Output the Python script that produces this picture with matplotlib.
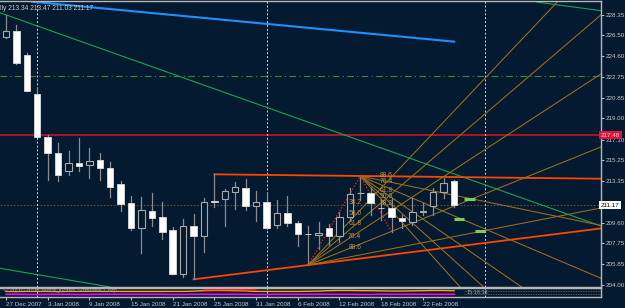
import matplotlib
matplotlib.use('Agg')
import matplotlib.pyplot as plt
from matplotlib.patches import Rectangle
import numpy as np

# ---------------- data ----------------
dates = ['27 Dec 2007', '3 Jan 2008', '9 Jan 2008', '15 Jan 2008', '21 Jan 2008',
         '25 Jan 2008', '31 Jan 2008', '6 Feb 2008', '12 Feb 2008', '18 Feb 2008',
         '22 Feb 2008']
date_bars = [0, 4, 8, 12, 16, 20, 24, 28, 32, 36, 40]

opens = [226.37, 226.91, 224.69, 221.21, 217.30, 215.92, 214.30, 214.96, 214.78, 215.23,
         214.57, 213.07, 211.36, 209.16, 210.67, 210.10, 208.95, 204.99, 209.31, 208.41,
         211.55, 211.72, 212.40, 212.77, 211.14, 211.50, 209.40, 210.51, 209.61, 208.59,
         208.50, 209.16, 208.41, 210.10, 212.26, 212.26, 210.93, 210.91, 210.06, 209.65,
         210.60, 211.14, 212.35, 213.34]
highs = [228.32, 227.42, 224.87, 221.72, 217.51, 216.76, 216.07, 217.27, 216.37, 215.92,
         215.05, 213.37, 212.02, 211.95, 212.31, 211.45, 209.25, 209.92, 210.37, 211.81,
         213.97, 212.65, 213.28, 213.55, 212.47, 212.26, 211.66, 212.02, 209.76, 209.31,
         209.70, 209.46, 210.60, 212.71, 213.82, 212.71, 211.72, 211.81, 210.30, 211.81,
         211.41, 212.71, 213.61, 213.47]
lows = [226.25, 223.88, 221.45, 217.30, 213.46, 213.40, 213.91, 214.30, 213.67, 213.46,
        211.90, 210.67, 208.95, 206.91, 209.31, 208.12, 204.95, 204.69, 204.51, 207.00,
        211.05, 209.31, 210.82, 210.76, 209.76, 209.05, 209.16, 209.31, 207.50, 205.80,
        207.20, 207.60, 207.90, 209.85, 211.66, 210.30, 209.85, 208.75, 209.10, 209.40,
        210.30, 210.30, 211.81, 211.03]
closes = [226.91, 223.97, 221.50, 217.36, 215.92, 213.88, 214.96, 214.75, 215.17, 214.57,
          212.85, 211.30, 209.16, 210.76, 210.06, 208.80, 204.99, 209.31, 208.44, 211.45,
          211.50, 212.47, 212.80, 211.11, 211.48, 209.11, 210.46, 209.61, 208.59, 208.55,
          208.70, 208.41, 210.10, 212.17, 212.30, 211.36, 210.90, 210.10, 209.76, 210.55,
          210.62, 212.40, 213.22, 211.17]

price_ticks = [228.35, 226.50, 224.60, 222.75, 220.85, 219.00, 217.10, 215.25, 213.35,
               209.60, 207.75, 205.85, 204.00]
title_text = 'lly 213.34 213.47 211.03 211.17'
last_price = 211.17
red_level = 217.48
green_level = 222.85
vlines_bars = [3, 25, 46]

fib_levels = [0.382, 0.5, 0.618, 0.764, 0.886]
fib_labels = ['38.2', '50.0', '61.8', '76.4', '88.6']
fanA = (29, 205.80)   # low
fanB = (34, 213.82)   # high
fanC = (37, 208.75)   # low

blue_line = [(2.5, 229.52), (43, 225.92)]
green_line1 = [(-0.6, 228.53), (57.1, 209.31)]
green_line2 = [(50.9, 229.49), (57.1, 228.71)]
green_line3 = [(-0.6, 205.51), (10.0, 203.82)]
support_pts = [(18, 204.51), (29, 205.80)]
resist_pts = [(20, 213.97), (34, 213.82)]
marks = [(44.0, 45.0, 211.73), (43.0, 44.0, 209.94), (45.0, 46.0, 208.90)]

# indicator strip series (0..1 scale of the strip)
ind_magenta = [0.30, 0.30, 0.28, 0.28, 0.30, 0.30, 0.30, 0.28, 0.28, 0.30,
               0.30, 0.30, 0.30, 0.30, 0.30, 0.30, 0.28, 0.28, 0.30, 0.30,
               0.30, 0.30, 0.30, 0.30, 0.28, 0.28, 0.30, 0.30, 0.30, 0.30,
               0.30, 0.30, 0.30, 0.30, 0.28, 0.28, 0.30, 0.30, 0.30, 0.30,
               0.30, 0.30, 0.30, 0.30]
ind_orange = [0.62, 0.60, 0.62, 0.62, 0.62, 0.60, 0.62, 0.62, 0.62, 0.62,
              0.62, 0.62, 0.62, 0.62, 0.62, 0.62, 0.62, 0.62, 0.65, 0.70,
              0.72, 0.72, 0.70, 0.68, 0.62, 0.62, 0.62, 0.62, 0.62, 0.64,
              0.66, 0.70, 0.72, 0.72, 0.70, 0.70, 0.68, 0.66, 0.66, 0.68,
              0.70, 0.72, 0.72, 0.70]
ind_red = [0.80, 0.80, 0.82, 0.82, 0.80, 0.78]
ind_red_bars = [19, 20, 21, 22, 23, 24]
ind_clock = '15:18:38'

# ---------------- figure ----------------
W, H = 625, 308
BG = '#031a30'
fig = plt.figure(figsize=(W / 100, H / 100), dpi=100)
fig.patch.set_facecolor(BG)

ax = fig.add_axes([0, 1 - 287 / H, 601 / W, 286 / H])
axi = fig.add_axes([0, 1 - 297 / H, 601 / W, 9 / H], sharex=ax)
for a in (ax, axi):
    a.set_facecolor(BG)
    for s in a.spines.values():
        s.set_color('#b8b8b8')
        s.set_linewidth(1)
    a.spines['left'].set_visible(False)

XMIN, XMAX = -0.576, 57.1
ax.set_xlim(XMIN, XMAX)
ax.set_ylim(203.82, 229.58)

FONT = 'Liberation Sans'
FS = 4.5
TXT = '#c8c8c8'

# candles
bw = 0.62
for i, (o, h, l, c) in enumerate(zip(opens, highs, lows, closes)):
    ax.plot([i, i], [l, h], color='#8c8c8c', lw=0.9, zorder=3)
    bot, top = min(o, c), max(o, c)
    hgt = max(top - bot, 0.04)
    if c < o:
        ax.add_patch(Rectangle((i - bw / 2, bot), bw, hgt, facecolor='white',
                               edgecolor='#dcdcdc', lw=0.6, zorder=4))
    else:
        ax.add_patch(Rectangle((i - bw / 2, bot), bw, hgt, facecolor=BG,
                               edgecolor='#a8a8a8', lw=0.8, zorder=4))

# horizontal lines
ax.axhline(red_level, color='#e01020', lw=1.1, zorder=2)
ax.axhline(green_level, color='#3f8a2a', lw=0.8, ls=(0, (6, 3, 1, 3)), zorder=2)
ax.axhline(last_price, color='#6a4a28', lw=0.8, ls=(0, (1.5, 1.5)), zorder=2)
for b in vlines_bars:
    ax.axvline(b, color='#d8d8d8', lw=0.7, ls=(0, (2, 2)), zorder=2)
    axi.axvline(b, color='#d8d8d8', lw=0.7, ls=(0, (2, 2)), zorder=2)

def seg(pts, **kw):
    xs, ys = zip(*pts)
    ax.plot(xs, ys, **kw)

seg(blue_line, color='#1e90ff', lw=1.5, zorder=2)
seg(green_line1, color='#20a050', lw=0.8, zorder=2)
seg(green_line2, color='#20a050', lw=0.8, zorder=2)
seg(green_line3, color='#20a050', lw=0.8, zorder=2)

def ray(p0, p1, x_end=60, **kw):
    slope = (p1[1] - p0[1]) / (p1[0] - p0[0])
    ax.plot([p0[0], x_end], [p0[1], p0[1] + slope * (x_end - p0[0])], **kw)

ray(support_pts[0], support_pts[1], color='#ff4500', lw=1.3, zorder=2)
ray(resist_pts[0], resist_pts[1], color='#ff4500', lw=1.3, zorder=2)

FAN = '#9c7018'
for lv, lab in zip(fib_levels, fib_labels):
    p = fanB[1] - lv * (fanB[1] - fanA[1])
    ray(fanA, (fanB[0], p), color=FAN, lw=0.75, zorder=2)
    ax.text(fanB[0] + 0.1, p + 0.66, lab, ha='right', va='center', fontsize=FS + 0.4,
            family=FONT, color='#b8943a', zorder=5)
    q = fanC[1] + lv * (fanB[1] - fanC[1])
    ray(fanB, (fanC[0], q), color=FAN, lw=0.75, zorder=2)
    ax.text(fanC[0] + 0.1, q + 0.66, lab, ha='right', va='center', fontsize=FS + 0.4,
            family=FONT, color='#b8943a', zorder=5)
ax.plot([fanA[0], fanB[0]], [fanA[1], fanB[1]], color='#ff2020', lw=0.9, ls=(0, (1, 1.5)), zorder=3)
ax.plot([fanB[0], fanC[0]], [fanB[1], fanC[1]], color='#ff2020', lw=0.9, ls=(0, (1, 1.5)), zorder=3)

for x0, x1, y in marks:
    ax.plot([x0, x1], [y, y], color='#7ccd5a', lw=2.2, solid_capstyle='butt', zorder=5)

# y axis on the right
ax.yaxis.tick_right()
ax.set_yticks(price_ticks)
ax.set_yticklabels([f'{v:.2f}' for v in price_ticks])
ax.tick_params(axis='y', direction='out', length=2, width=0.8, color='#b8b8b8',
               labelsize=FS, labelcolor=TXT, pad=1.5)
for t in ax.get_yticklabels():
    t.set_family(FONT)
ax.tick_params(axis='x', bottom=False, labelbottom=False)

ax.text(1.0, red_level, '217.48', transform=ax.get_yaxis_transform(), ha='left', va='center',
        fontsize=FS, family=FONT, color='#ffd0d0', zorder=6, clip_on=False,
        bbox=dict(boxstyle='square,pad=0.25', fc='#dc143c', ec='none'))
ax.text(1.0, last_price, '211.17', transform=ax.get_yaxis_transform(), ha='left', va='center',
        fontsize=FS, family=FONT, color='black', zorder=6, clip_on=False,
        bbox=dict(boxstyle='square,pad=0.25', fc='white', ec='none'))

ax.text(0.0, 0.985, title_text, transform=ax.transAxes, ha='left', va='top', fontsize=FS + 0.3,
        family=FONT, color=TXT)

# indicator strip
axi.set_ylim(0, 1)
axi.set_yticks([])
bars = np.arange(len(ind_magenta))
axi.plot(bars, ind_orange, color='#ffa500', lw=1.0, zorder=3)
axi.plot(bars, ind_magenta, color='#ff00ff', lw=1.2, zorder=3)
axi.plot(ind_red_bars, ind_red, color='#ff2020', lw=1.0, zorder=3)
axi.axhline(0.62, xmin=(44 - XMIN) / (XMAX - XMIN), color='#707070', lw=0.6, ls=(0, (1, 1)))
axi.axhline(0.30, xmin=(44 - XMIN) / (XMAX - XMIN), color='#707070', lw=0.6, ls=(0, (1, 1)))
axi.text(44.2, 0.45, ind_clock, ha='left', va='center', fontsize=FS - 0.5, family=FONT,
         color='#a0a0a0')
axi.set_xticks(date_bars)
axi.set_xticklabels(dates)
axi.tick_params(axis='x', direction='out', length=2, color='#b8b8b8', labelsize=FS,
                labelcolor=TXT, pad=1.5)
for t in axi.get_xticklabels():
    t.set_family(FONT)
    t.set_ha('left')
axi.text(0.005, 0.75, '\u00a9 2001-2008 MetaQuotes Software Corp.', transform=axi.transAxes,
         ha='left', va='center', fontsize=FS, family=FONT, color='#a0a0a0', zorder=4)

fig.savefig('out.png', dpi=100, facecolor=BG)
